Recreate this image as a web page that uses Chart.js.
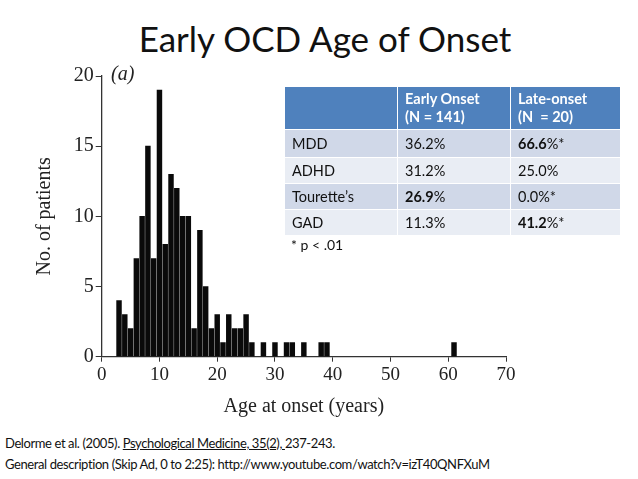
<!doctype html>
<html>
<head>
    <title>Early OCD Age of Onset</title>
    <script src="https://cdn.jsdelivr.net/npm/chart.js@4.4.1/dist/chart.umd.min.js"></script>
    <style>
        html, body{
            margin: 0px;
            width: 638px;
            height: 479px;
            background: #fff;
            overflow: hidden;
            position: relative;
            font-family: 'Lato', sans-serif;
        }
        #title{
            position: absolute;
            left: 6px;
            top: 17px;
            width: 638px;
            text-align: center;
            font-size: 35px;
            color: #111;
        }
        #chartBox{
            position: absolute;
            left: 0px;
            top: 50px;
            width: 540px;
            height: 380px;
        }
        #panel{
            position: absolute;
            left: 111px;
            top: 62px;
            font-family: 'Liberation Serif', serif;
            font-style: italic;
            font-size: 20px;
            color: #222;
        }
        #stats{
            position: absolute;
            left: 284px;
            top: 86px;
            width: 336px;
            table-layout: fixed;
            border-collapse: collapse;
            font-size: 14.5px;
            color: #111;
        }
        #stats td, #stats th{
            border: 1.5px solid #fff;
            padding: 0px 0px 0px 7px;
            text-align: left;
            vertical-align: middle;
            white-space: nowrap;
        }
        #stats th{
            background: #4f81bd;
            color: #fff;
            font-weight: bold;
            line-height: 18px;
            height: 42px;
        }
        #stats tr.odd td{ background: #d0d8e8; }
        #stats tr.even td{ background: #e9edf4; }
        #note{
            position: absolute;
            left: 291px;
            top: 236px;
            font-size: 14px;
            color: #111;
        }
        .cite{
            position: absolute;
            left: 5px;
            font-size: 13px;
            letter-spacing: -0.4px;
            color: #111;
            white-space: nowrap;
        }
    </style>
</head>

<body>
    <div id="title">Early OCD Age of Onset</div>
    <div id="chartBox"><canvas id="canvas" width="540" height="380"></canvas></div>
    <div id="panel">(a)</div>

    <table id="stats">
        <colgroup><col style="width: 113px;"><col style="width: 113px;"><col style="width: 110px;"></colgroup>
        <tr><th></th><th>Early Onset<br>(N = 141)</th><th>Late-onset<br>(N &nbsp;= 20)</th></tr>
        <tr class="odd"><td style="height: 27px;">MDD</td><td>36.2%</td><td><b>66.6</b>%*</td></tr>
        <tr class="even"><td style="height: 25px;">ADHD</td><td>31.2%</td><td>25.0%</td></tr>
        <tr class="odd"><td style="height: 25px;">Tourette’s</td><td><b>26.9</b>%</td><td>0.0%*</td></tr>
        <tr class="even"><td style="height: 24.5px;">GAD</td><td>11.3%</td><td><b>41.2</b>%*</td></tr>
    </table>
    <div id="note">* p &lt; .01</div>

    <div class="cite" style="top: 435px;">Delorme et al. (2005). <u>Psychological Medicine, 35(2), </u>237-243.</div>
    <div class="cite" style="top: 456px;">General description (Skip Ad, 0 to 2:25): http://www.youtube.com/watch?v=izT40QNFXuM</div>

    <script>
        // histogram: one bar per year of age
        var ages   = [3, 4, 5, 6, 7, 8, 9, 10, 11, 12, 13, 14, 15, 16, 17, 18, 19, 20, 21, 22, 23, 24, 25, 26, 28, 30, 32, 33, 35, 38, 39, 61];
        var counts = [4, 3, 2, 7, 10, 15, 7, 19, 8, 13, 12, 10, 10, 2, 9, 5, 2, 3, 1, 3, 2, 2, 3, 1, 1, 1, 1, 1, 1, 1, 1, 1];

        var xTicks = [0, 10, 20, 30, 40, 50, 60, 70];
        var yTicks = [0, 5, 10, 15, 20];

        var points = [];
        for(var i = 0; i < ages.length; ++i){
            points.push({ x: ages[i], y: counts[i] });
        }

        var serif = 'Liberation Serif';

        window.onload = function() {
            var ctx = document.getElementById("canvas").getContext("2d");
            window.myBar = new Chart(ctx, {
                type: 'bar',
                data: {
                    datasets: [{
                        label: 'No. of patients',
                        data: points,
                        backgroundColor: '#0a0a0a',
                        borderWidth: 0,
                        barThickness: 4.8
                    }]
                },
                options: {
                    responsive: false,
                    animation: false,
                    layout: {
                        padding: { left: 0, top: 26, right: 34, bottom: 0 }
                    },
                    plugins: {
                        legend: { display: false },
                        tooltip: { enabled: false }
                    },
                    scales: {
                        x: {
                            type: 'linear',
                            min: xTicks[0],
                            max: xTicks[xTicks.length - 1],
                            offset: false,
                            afterBuildTicks: function(scale){
                                scale.ticks = xTicks.map(function(v){ return { value: v }; });
                            },
                            afterFit: function(scale){ scale.height = 73.3; },
                            grid: {
                                offset: false,
                                drawOnChartArea: false,
                                drawTicks: true,
                                tickLength: 5,
                                color: '#333'
                            },
                            border: { display: true, color: '#333', width: 1.3 },
                            ticks: {
                                padding: 2,
                                color: '#222',
                                maxRotation: 0,
                                font: { family: serif, size: 19 }
                            },
                            title: {
                                display: true,
                                text: 'Age at onset (years)',
                                color: '#222',
                                padding: { top: 0, bottom: 11 },
                                font: { family: serif, size: 20 }
                            }
                        },
                        y: {
                            type: 'linear',
                            min: yTicks[0],
                            max: yTicks[yTicks.length - 1],
                            afterBuildTicks: function(scale){
                                scale.ticks = yTicks.map(function(v){ return { value: v }; });
                            },
                            afterFit: function(scale){ scale.width = 101.7; },
                            grid: {
                                drawOnChartArea: false,
                                drawTicks: true,
                                tickLength: 6,
                                color: '#333'
                            },
                            border: { display: true, color: '#333', width: 1.3 },
                            ticks: {
                                padding: 2,
                                color: '#222',
                                font: { family: serif, size: 20 }
                            },
                            title: {
                                display: true,
                                text: 'No. of patients',
                                color: '#222',
                                padding: { top: 33, bottom: 0 },
                                font: { family: serif, size: 20 }
                            }
                        }
                    }
                }
            });
        };
    </script>
</body>
</html>
